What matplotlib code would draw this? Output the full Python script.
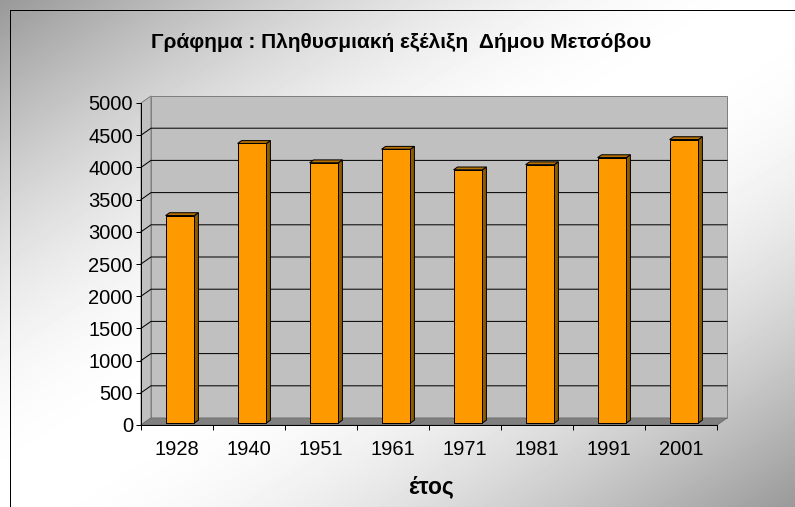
import numpy as np
import matplotlib
matplotlib.use("Agg")
import matplotlib.pyplot as plt
from matplotlib.patches import Polygon, Rectangle
from matplotlib.transforms import IdentityTransform

plt.rcParams['font.family'] = ['Liberation Sans', 'DejaVu Sans']

# data
years = ['1928', '1940', '1951', '1961', '1971', '1981', '1991', '2001']
population = [3220, 4340, 4040, 4250, 3930, 4010, 4120, 4400]
y_ticks = list(range(0, 5001, 500))

title = 'Γράφημα : Πληθυσμιακή εξέλιξη  Δήμου Μετσόβου'
x_label = 'έτος'

W, H = 795, 507
DEPTH = np.array([10.0, 7.0])   # pixel shift from front plane to back wall
f0, f1 = 0.3, 0.7               # bar front / back depth
bar_w = 0.40
px = 0.72                       # one pixel in points

fig = plt.figure(figsize=(W / 100, H / 100), dpi=100)

# gradient background
bg = fig.add_axes([0, 0, 1, 1], zorder=-10)
yy, xx = np.mgrid[0:H, 0:W]
t = (xx / W + yy / H) / 2
shade = 0.6 + 0.4 * np.sin(np.pi * t)
bg.imshow(shade, cmap='gray', vmin=0, vmax=1, aspect='auto', extent=[0, W, H, 0])
bg.set_xlim(0, W)
bg.set_ylim(H, 0)
bg.axis('off')
bg.add_patch(Rectangle((9.5, 10), 800, 510, fill=False, edgecolor='black', lw=px))

# front plane of the chart
ax = fig.add_axes([141 / W, (H - 425) / H, 576 / W, 322 / H])
ax.set_xlim(-0.5, len(years) - 0.5)
ax.set_ylim(0, 5000)
ax.set_autoscale_on(False)
ax.patch.set_visible(False)

def to_px(x, y, f):
    p = ax.transData.transform((x, y))
    return p + f * DEPTH

def face(pts, fc, ec, lw, z):
    poly = Polygon([to_px(*p) for p in pts], closed=True, facecolor=fc,
                   edgecolor=ec, lw=lw, transform=IdentityTransform(),
                   clip_on=False, zorder=z, joinstyle='miter')
    ax.add_patch(poly)

x0, x1 = -0.5, len(years) - 0.5
top = y_ticks[-1]
# walls and floor
face([(x0, 0, 0), (x0, top, 0), (x0, top, 1), (x0, 0, 1)], '#c0c0c0', '#808080', px, 0.5)
face([(x0, 0, 1), (x1, 0, 1), (x1, top, 1), (x0, top, 1)], '#c0c0c0', '#808080', px, 0.5)
face([(x0, 0, 0), (x1, 0, 0), (x1, 0, 1), (x0, 0, 1)], '#808080', '#707070', px, 0.6)

# gridlines on side and back wall
for v in y_ticks[1:-1]:
    pts = np.array([to_px(x0, v, 0), to_px(x0, v, 1), to_px(x1, v, 1)])
    ax.plot(pts[:, 0], pts[:, 1], color='black', lw=px,
            transform=IdentityTransform(), clip_on=False, zorder=1)

# bars
for i, v in enumerate(population):
    l, r = i - bar_w / 2, i + bar_w / 2
    face([(r, 0, f0), (r, v, f0), (r, v, f1), (r, 0, f1)], '#8f5a00', 'black', px, 2)
    face([(l, v, f0), (r, v, f0), (r, v, f1), (l, v, f1)], '#b87000', 'black', px, 2)
    face([(l, 0, f0), (r, 0, f0), (r, v, f0), (l, v, f0)], '#ff9900', 'black', px, 2.1)

# axes lines and ticks
for s in ['top', 'right']:
    ax.spines[s].set_visible(False)
for s in ['left', 'bottom']:
    ax.spines[s].set_color('black')
    ax.spines[s].set_linewidth(px)
    ax.spines[s].set_zorder(3)

ax.set_yticks(y_ticks)
ax.set_yticklabels([str(v) for v in y_ticks], fontsize=14.5)
ax.tick_params(axis='y', direction='out', length=3.6, width=px, pad=2.2)

ax.set_xticks(np.arange(-0.5, len(years), 1.0))
ax.set_xticklabels([])
ax.set_xticks(range(len(years)), minor=True)
ax.set_xticklabels(years, minor=True, fontsize=14.5)
ax.tick_params(axis='x', which='major', direction='out', length=3.6, width=px)
ax.tick_params(axis='x', which='minor', length=0, pad=11)

fig.text(401 / W, 1 - 43 / H, title, ha='center', va='center',
         fontsize=15, fontweight='bold')
fig.text(431 / W, 1 - 487 / H, x_label, ha='center', va='center',
         fontsize=16.5, fontweight='bold')

fig.savefig('out.png', dpi=100)
